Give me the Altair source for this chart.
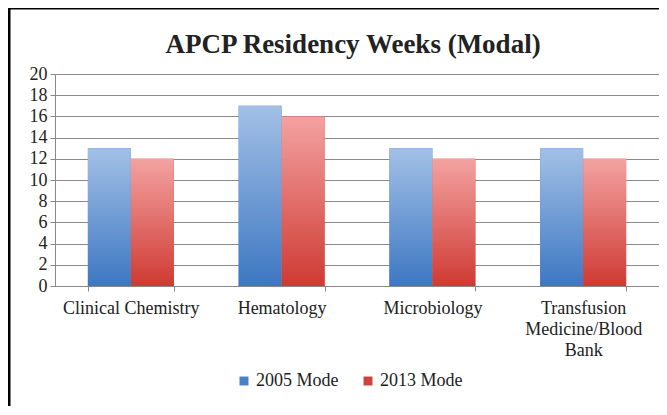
import altair as alt
import pandas as pd

categories = ["Clinical Chemistry", "Hematology", "Microbiology", "Transfusion Medicine/Blood Bank"]
series = ["2005 Mode", "2013 Mode"]
values_2005 = [13, 17, 13, 13]
values_2013 = [12, 16, 12, 12]
title_text = "APCP Residency Weeks (Modal)"

rows = []
for c, a, b in zip(categories, values_2005, values_2013):
    rows.append({"category": c, "series": series[0], "weeks": a})
    rows.append({"category": c, "series": series[1], "weeks": b})
df = pd.DataFrame(rows)

blue_grad = alt.LinearGradient(
    gradient="linear", x1=0, y1=0, x2=0, y2=1,
    stops=[alt.GradientStop(color="#a3c0e6", offset=0), alt.GradientStop(color="#3d77c2", offset=1)],
)
red_grad = alt.LinearGradient(
    gradient="linear", x1=0, y1=0, x2=0, y2=1,
    stops=[alt.GradientStop(color="#f3a2a1", offset=0), alt.GradientStop(color="#cf3a33", offset=1)],
)

FONT = "Liberation Serif"

x_enc = alt.X(
    "category:N", sort=categories, title=None,
    scale=alt.Scale(paddingInner=0.43, paddingOuter=0.218),
    axis=alt.Axis(
        labelAngle=0, labelFontSize=18, labelFont=FONT, labelColor="#222222",
        labelPadding=8, tickBand="extent", tickSize=5, tickColor="#888888",
        domainColor="#888888", labelLimit=200,
        labelExpr="datum.value == 'Transfusion Medicine/Blood Bank' ? ['Transfusion', 'Medicine/Blood', 'Bank'] : datum.value",
        labelLineHeight=21,
    ),
)
y_enc = alt.Y(
    "weeks:Q", title=None,
    scale=alt.Scale(domain=[0, 20], nice=False),
    axis=alt.Axis(
        values=list(range(0, 21, 2)), labelFontSize=18, labelFont=FONT, labelColor="#222222",
        tickSize=5, tickColor="#888888", domainColor="#888888",
        gridColor="#8a8a8a", gridWidth=1.2, labelPadding=3,
    ),
)

base = alt.Chart(df)

legend_layer = base.mark_bar().encode(
    x=x_enc, y=y_enc, xOffset=alt.XOffset("series:N", sort=series),
    color=alt.Color(
        "series:N", sort=series,
        scale=alt.Scale(domain=series, range=["#4a80c6", "#d2423c"]),
        legend=alt.Legend(
            title=None, orient="none", direction="horizontal", symbolType="square",
            legendX=180, legendY=298,
            symbolSize=80, labelFont=FONT, labelFontSize=18, labelColor="#222222",
            columnPadding=20, symbolStrokeWidth=0, labelOffset=3,
        ),
    ),
)

grad_layer = base.mark_bar().encode(
    x=x_enc, y=y_enc, xOffset=alt.XOffset("series:N", sort=series),
    fill=alt.condition(alt.datum.series == "2005 Mode", alt.value(blue_grad), alt.value(red_grad)),
)

one = pd.DataFrame({"t": [title_text]})
title_layer = alt.Chart(one).mark_text(
    font=FONT, fontSize=27, fontWeight="bold", color="#222222", align="center", baseline="middle"
).encode(text="t:N", x=alt.value(298), y=alt.value(-29))

frame_left = alt.Chart(one).mark_rule(color="black", strokeWidth=3).encode(
    x=alt.value(-46), y=alt.value(-66), y2=alt.value(340)
)
frame_top = alt.Chart(one).mark_rule(color="black", strokeWidth=3).encode(
    x=alt.value(-46), x2=alt.value(610), y=alt.value(-66)
)

chart = alt.layer(legend_layer, grad_layer, title_layer, frame_left, frame_top).properties(
    width=604, height=212,
    padding={"left": 47, "top": 66, "right": 0, "bottom": 120},
    autosize=alt.AutoSizeParams(type="none"),
).configure_view(stroke=None).configure(background="white").configure_legend(
    labelFont=FONT, labelFontSize=18
)

chart.save("out.html", embed_options={"renderer": "svg", "actions": False})
